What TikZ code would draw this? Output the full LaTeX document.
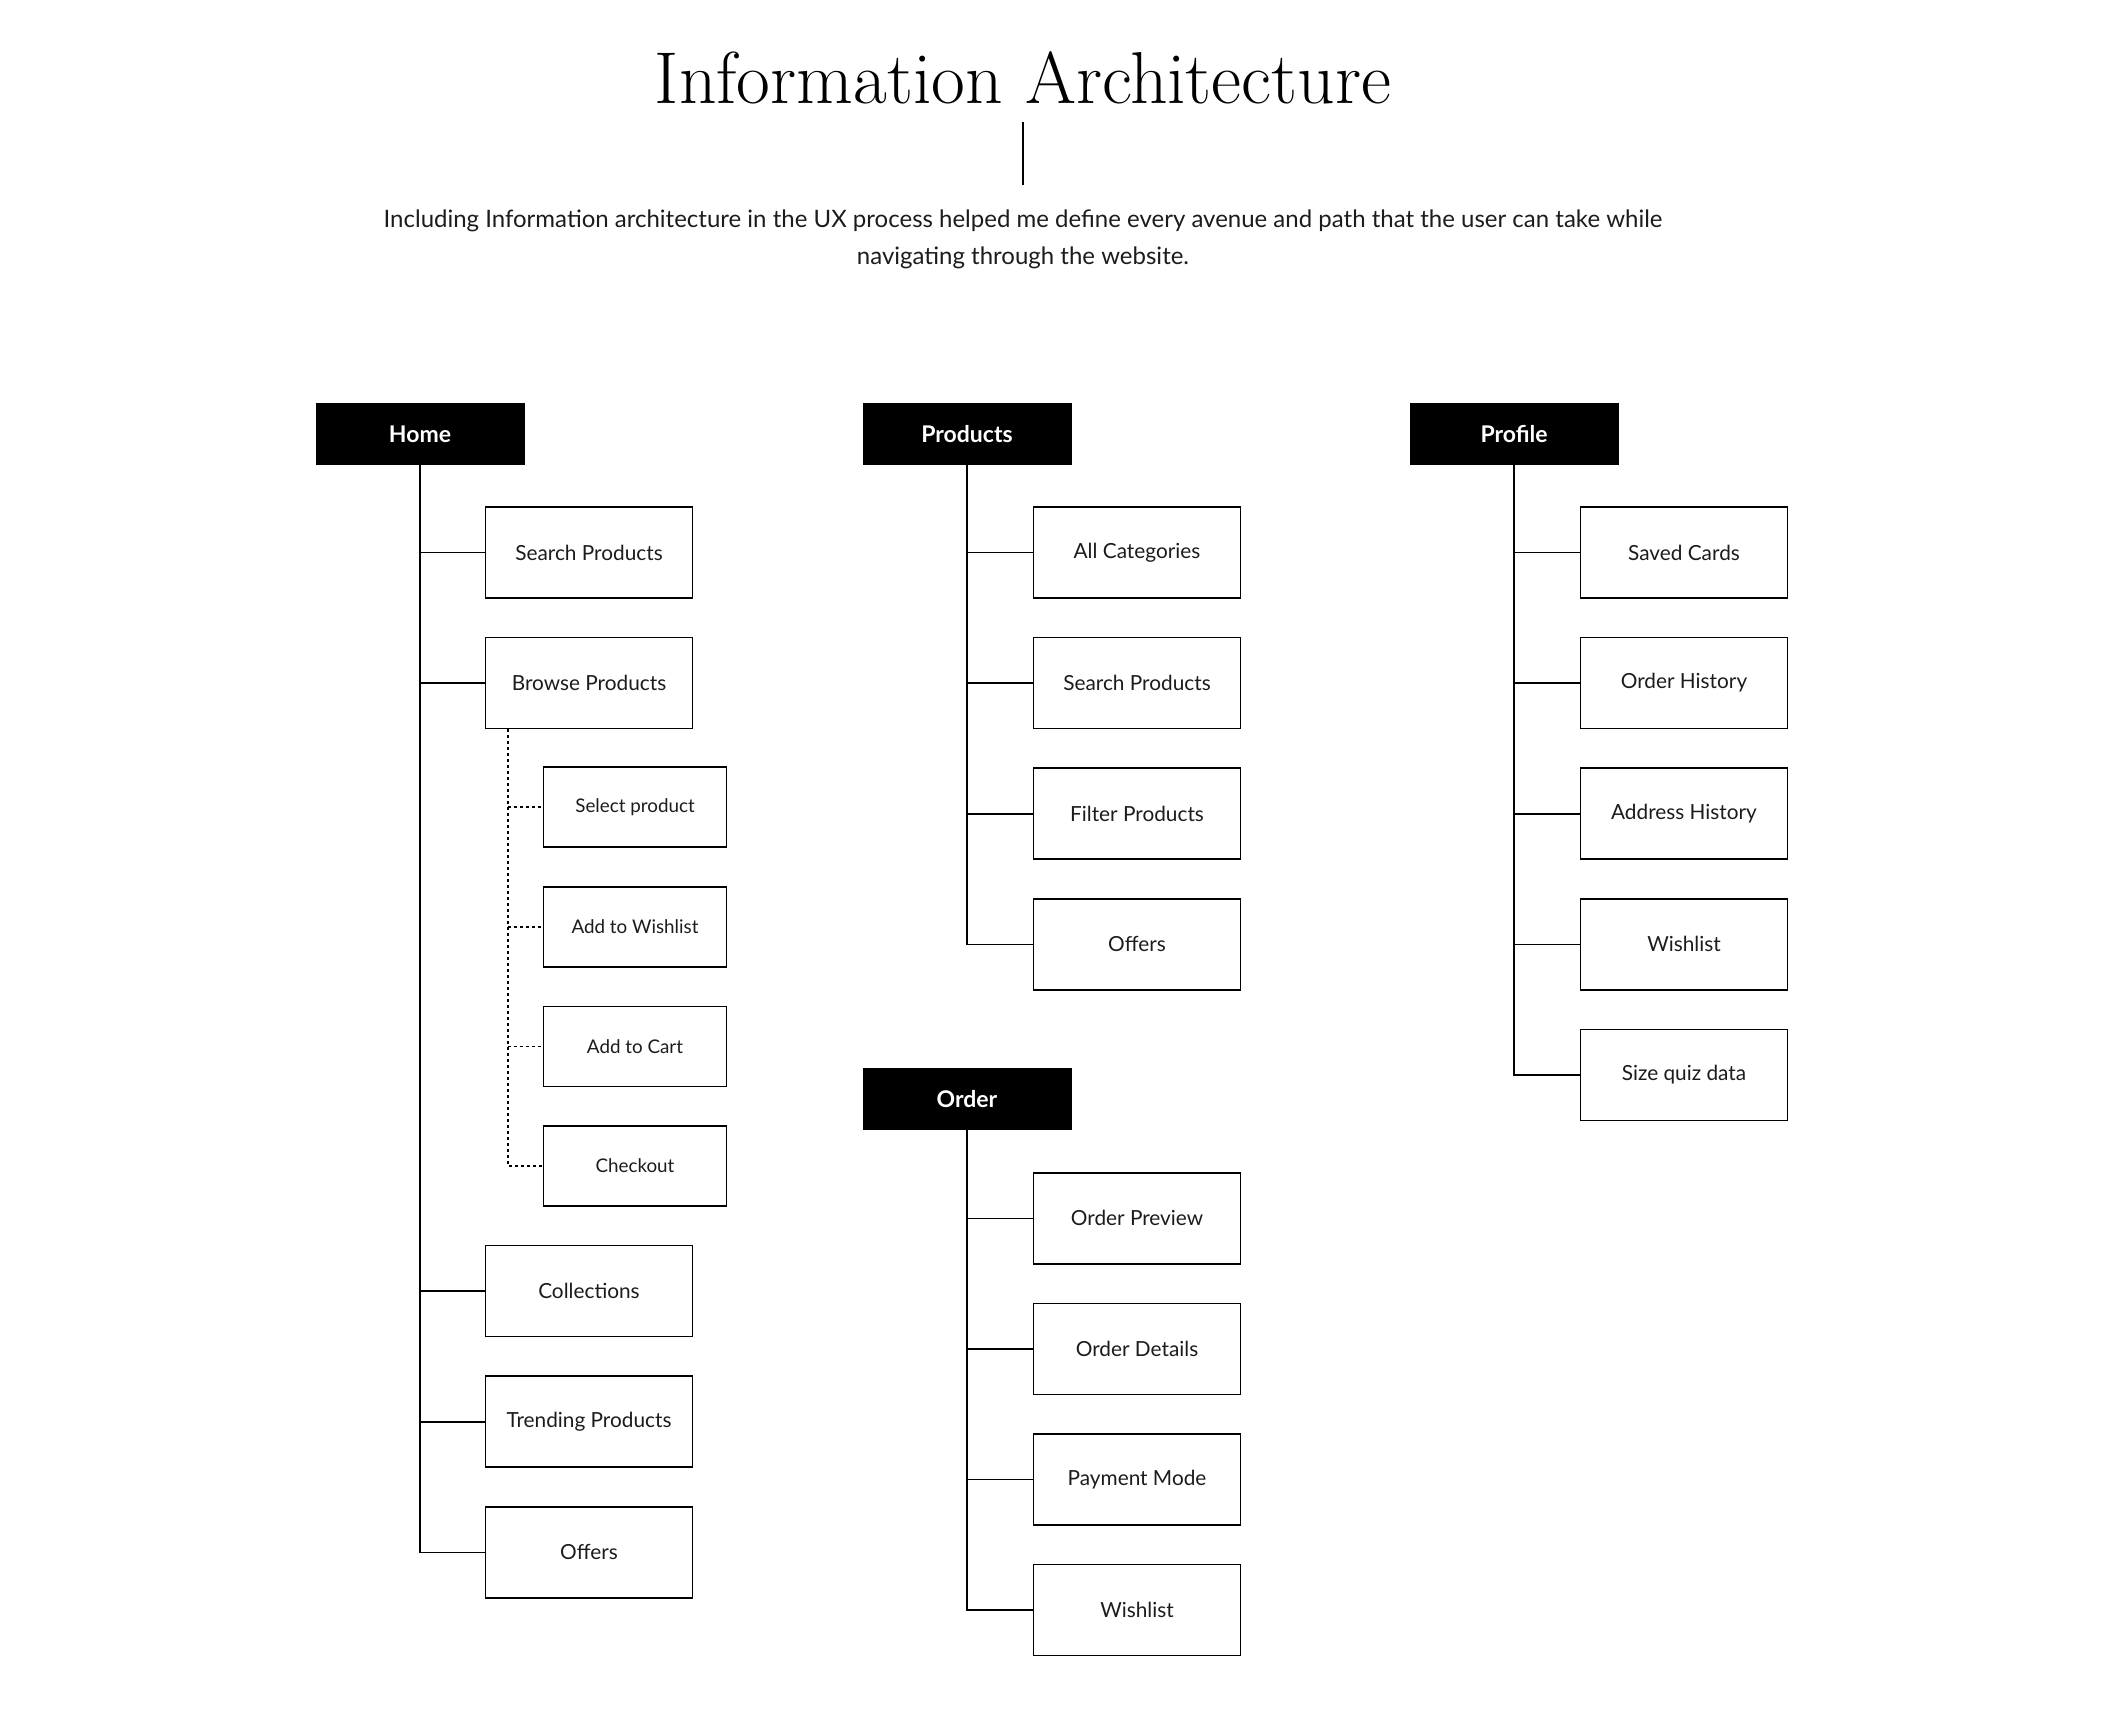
\documentclass[tikz,border=0pt]{standalone}
\usepackage{fontspec}
\setsansfont{Lato}
\usetikzlibrary{positioning}

\definecolor{ink}{HTML}{1C1C1C}

\begin{document}
\begin{tikzpicture}[
    x=1pt, y=-1pt,
    node distance=38pt,
    head/.style={fill=black, text=white, minimum width=209pt, minimum height=62pt, inner sep=0pt, font=\sffamily\bfseries\fontsize{23}{27}\selectfont},
    item/.style={draw, line width=1.6pt, minimum width=207pt, minimum height=91pt, inner sep=0pt, text=ink, font=\sffamily\fontsize{20.8}{24}\selectfont},
    subitem/.style={item, minimum width=183pt, minimum height=80pt, font=\sffamily\fontsize{18.8}{22}\selectfont},
    link/.style={line width=1.6pt},
    dots/.style={line width=1.6pt, dash pattern=on 3pt off 3pt}
]
    \useasboundingbox (0,0) rectangle (2101,1734);

    % heading
    \node[anchor=base, font=\fontsize{73.5}{78}\selectfont] (title) at (1023,104) {Information Architecture};
    \coordinate (rtop) at (1023,122);
    \coordinate (rbot) at (1023,185);
    \draw[line width=1.6pt] (rtop) -- (rbot);
    \node[align=center, text=ink, font=\sffamily\fontsize{24}{37}\selectfont] (intro) at (1023,239)
        {Including Information architecture in the UX process helped me define every avenue and path that the user can take while\\navigating through the website.};

    % Home
    \node[head] (home) at (420,434) {Home};
    \node[item, below right=41pt and -40pt of home] (hsearch) {Search Products};
    \node[item, below=of hsearch] (hbrowse) {Browse Products};
    \node[subitem, below right=37pt and 58pt of hbrowse.south west] (hselect) {Select product};
    \node[subitem, below=of hselect] (hwish) {Add to Wishlist};
    \node[subitem, below=of hwish] (hcart) {Add to Cart};
    \node[subitem, below=of hcart] (hcheck) {Checkout};
    \coordinate (hgap) at (hbrowse |- hcheck.south);
    \node[item, below=of hgap] (hcoll) {Collections};
    \node[item, below=of hcoll] (htrend) {Trending Products};
    \node[item, below=of htrend] (hoffers) {Offers};

    \draw[link] (home) -- (home |- hoffers) -- (hoffers);
    \foreach \n in {hsearch,hbrowse,hcoll,htrend}
        \draw[link] (home |- \n) -- (\n);
    \coordinate (btrunk) at ([xshift=23pt]hbrowse.south west);
    \draw[dots] (btrunk) -- (btrunk |- hcheck) -- (hcheck);
    \foreach \n in {hselect,hwish,hcart}
        \draw[dots] (btrunk |- \n) -- (\n);

    % Products
    \node[head] (prod) at (967,434) {Products};
    \node[item, below right=41pt and -39pt of prod] (pall) {All Categories};
    \node[item, below=of pall] (psearch) {Search Products};
    \node[item, below=of psearch] (pfilter) {Filter Products};
    \node[item, below=of pfilter] (poffers) {Offers};

    \draw[link] (prod) -- (prod |- poffers) -- (poffers);
    \foreach \n in {pall,psearch,pfilter}
        \draw[link] (prod |- \n) -- (\n);

    % Order
    \coordinate (pgap) at (prod |- poffers.south);
    \node[head, below=77pt of pgap] (order) {Order};
    \node[item, below right=42pt and -39pt of order] (opreview) {Order Preview};
    \node[item, below=of opreview] (odetails) {Order Details};
    \node[item, below=of odetails] (opay) {Payment Mode};
    \node[item, below=of opay] (owish) {Wishlist};

    \draw[link] (order) -- (order |- owish) -- (owish);
    \foreach \n in {opreview,odetails,opay}
        \draw[link] (order |- \n) -- (\n);

    % Profile
    \node[head] (profile) at (1514,434) {Profile};
    \node[item, below right=41pt and -39pt of profile] (fcards) {Saved Cards};
    \node[item, below=of fcards] (fhistory) {Order History};
    \node[item, below=of fhistory] (faddress) {Address History};
    \node[item, below=of faddress] (fwish) {Wishlist};
    \node[item, below=of fwish] (fquiz) {Size quiz data};

    \draw[link] (profile) -- (profile |- fquiz) -- (fquiz);
    \foreach \n in {fcards,fhistory,faddress,fwish}
        \draw[link] (profile |- \n) -- (\n);
\end{tikzpicture}
\end{document}
